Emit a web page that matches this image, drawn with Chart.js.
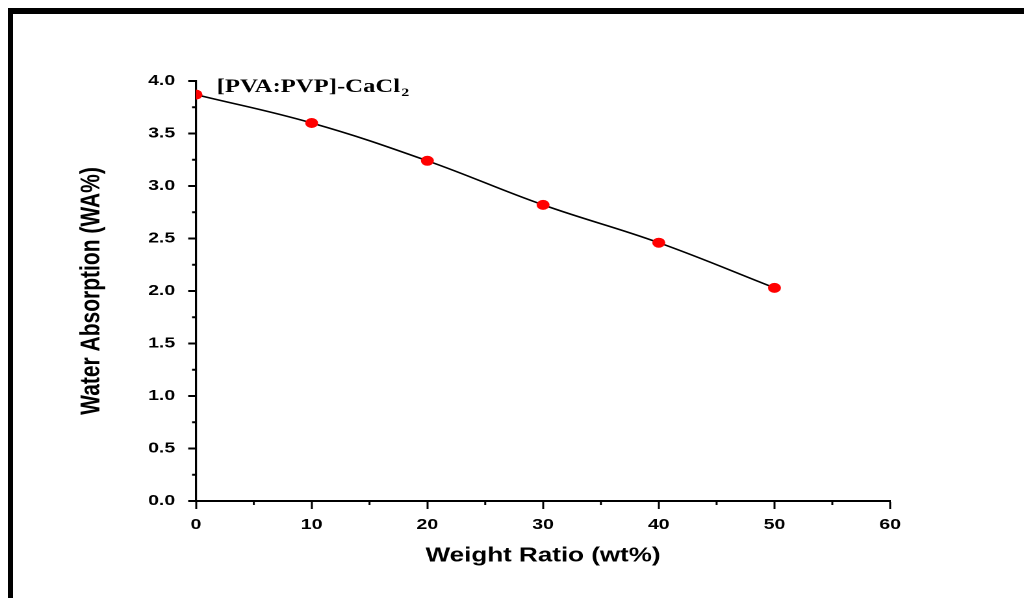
<!DOCTYPE html>
<html>
<head>
<meta charset="utf-8">
<script src="https://cdn.jsdelivr.net/npm/chart.js@4"></script>
<style>
  html, body { margin: 0; padding: 0; background: #fff; overflow: hidden; }
  body { width: 1024px; height: 598px; position: relative; }
  #moldura { position: absolute; left: 8px; top: 8px; width: 1100px; height: 700px;
             border-top: 6px solid #000; border-left: 5px solid #000; }
  #area { position: absolute; left: 0; top: 0; width: 788px; height: 598px;
          transform: scaleX(1.2995); transform-origin: 0 0; }
</style>
</head>
<body>
<div id="moldura"></div>
<div id="area"><canvas id="graficoWA"></canvas></div>
<script>
// dados
const razoes = [0, 10, 20, 30, 40, 50];
const absorcao = [3.87, 3.60, 3.24, 2.82, 2.46, 2.03];
const rotulosX = [0, 10, 20, 30, 40, 50, 60];
const rotulosY = [0.0, 0.5, 1.0, 1.5, 2.0, 2.5, 3.0, 3.5, 4.0];

const fonteEixo = 'Liberation Sans, Arial, sans-serif';

// ticks menores (sem rótulo) e o texto da amostra
const extras = {
    id: 'extras',
    afterDraw(chart) {
        const ctx = chart.ctx;
        const sx = chart.scales.x;
        const sy = chart.scales.y;
        const area = chart.chartArea;
        ctx.save();
        ctx.strokeStyle = '#000';

        ctx.lineWidth = 1.5;
        sx.ticks.forEach(t => {
            if (rotulosX.includes(t.value)) return;
            const px = sx.getPixelForValue(t.value);
            ctx.beginPath();
            ctx.moveTo(px, area.bottom);
            ctx.lineTo(px, area.bottom + 4);
            ctx.stroke();
        });

        ctx.lineWidth = 2;
        sy.ticks.forEach(t => {
            if (rotulosY.some(v => Math.abs(v - t.value) < 1e-6)) return;
            const py = sy.getPixelForValue(t.value);
            ctx.beginPath();
            ctx.moveTo(area.left, py);
            ctx.lineTo(area.left - 3, py);
            ctx.stroke();
        });

        // [PVA:PVP]-CaCl2
        ctx.fillStyle = '#000';
        ctx.textBaseline = 'alphabetic';
        ctx.textAlign = 'left';
        ctx.font = 'bold 19px "Liberation Serif", "Times New Roman", serif';
        const x0 = area.left + 16;
        const base = area.top + 11;
        ctx.fillText('[PVA:PVP]-CaCl', x0, base);
        const w = ctx.measureText('[PVA:PVP]-CaCl').width;
        ctx.font = 'bold 12px "Liberation Serif", "Times New Roman", serif';
        ctx.fillText('2', x0 + w + 1, base + 4);
        ctx.restore();
    }
};

const ctx = document.getElementById('graficoWA').getContext('2d');
new Chart(ctx, {
    type: 'line',
    data: {
        labels: razoes,
        datasets: [{
            data: razoes.map((r, i) => ({ x: r, y: absorcao[i] })),
            borderColor: '#000',
            borderWidth: 1.6,
            tension: 0.4,
            pointRadius: 5,
            pointBackgroundColor: '#ff0000',
            pointBorderColor: '#ff0000',
            pointBorderWidth: 0,
            clip: 0
        }]
    },
    options: {
        responsive: true,
        maintainAspectRatio: false,
        animation: false,
        devicePixelRatio: 2,
        layout: { padding: { left: 0, top: 81, right: 103, bottom: 0 } },
        plugins: {
            legend: { display: false },
            tooltip: { enabled: false }
        },
        scales: {
            x: {
                type: 'linear',
                min: 0,
                max: 60,
                afterFit: s => { s.height = 97; },
                border: { display: true, color: '#000', width: 2 },
                grid: {
                    drawOnChartArea: false,
                    tickLength: 8,
                    tickWidth: 1.5,
                    tickColor: c => rotulosX.includes(c.tick.value) ? '#000' : 'rgba(0,0,0,0)'
                },
                ticks: {
                    stepSize: 5,
                    padding: 7,
                    color: '#000',
                    maxRotation: 0,
                    autoSkip: false,
                    font: { family: fonteEixo, size: 15, weight: 'bold' },
                    callback: v => rotulosX.includes(v) ? String(v) : ''
                },
                title: {
                    display: true,
                    text: 'Weight Ratio (wt%)',
                    color: '#000',
                    font: { family: fonteEixo, size: 20, weight: 'bold' },
                    padding: { top: 0, bottom: 30 }
                }
            },
            y: {
                min: 0,
                max: 4,
                afterFit: s => { s.width = 150.8; },
                border: { display: true, color: '#000', width: 1.6 },
                grid: {
                    drawOnChartArea: false,
                    tickLength: 6,
                    tickWidth: 2,
                    tickColor: c => rotulosY.some(v => Math.abs(v - c.tick.value) < 1e-6) ? '#000' : 'rgba(0,0,0,0)'
                },
                ticks: {
                    stepSize: 0.25,
                    padding: 10,
                    color: '#000',
                    autoSkip: false,
                    font: { family: fonteEixo, size: 15, weight: 'bold' },
                    callback: v => rotulosY.some(r => Math.abs(r - v) < 1e-6) ? v.toFixed(1) : ''
                },
                title: {
                    display: true,
                    text: 'Water Absorption (WA%)',
                    color: '#000',
                    font: { family: fonteEixo, size: 21, weight: 'bold' },
                    padding: { top: 58, bottom: 0 }
                }
            }
        }
    },
    plugins: [extras]
});
</script>
</body>
</html>
